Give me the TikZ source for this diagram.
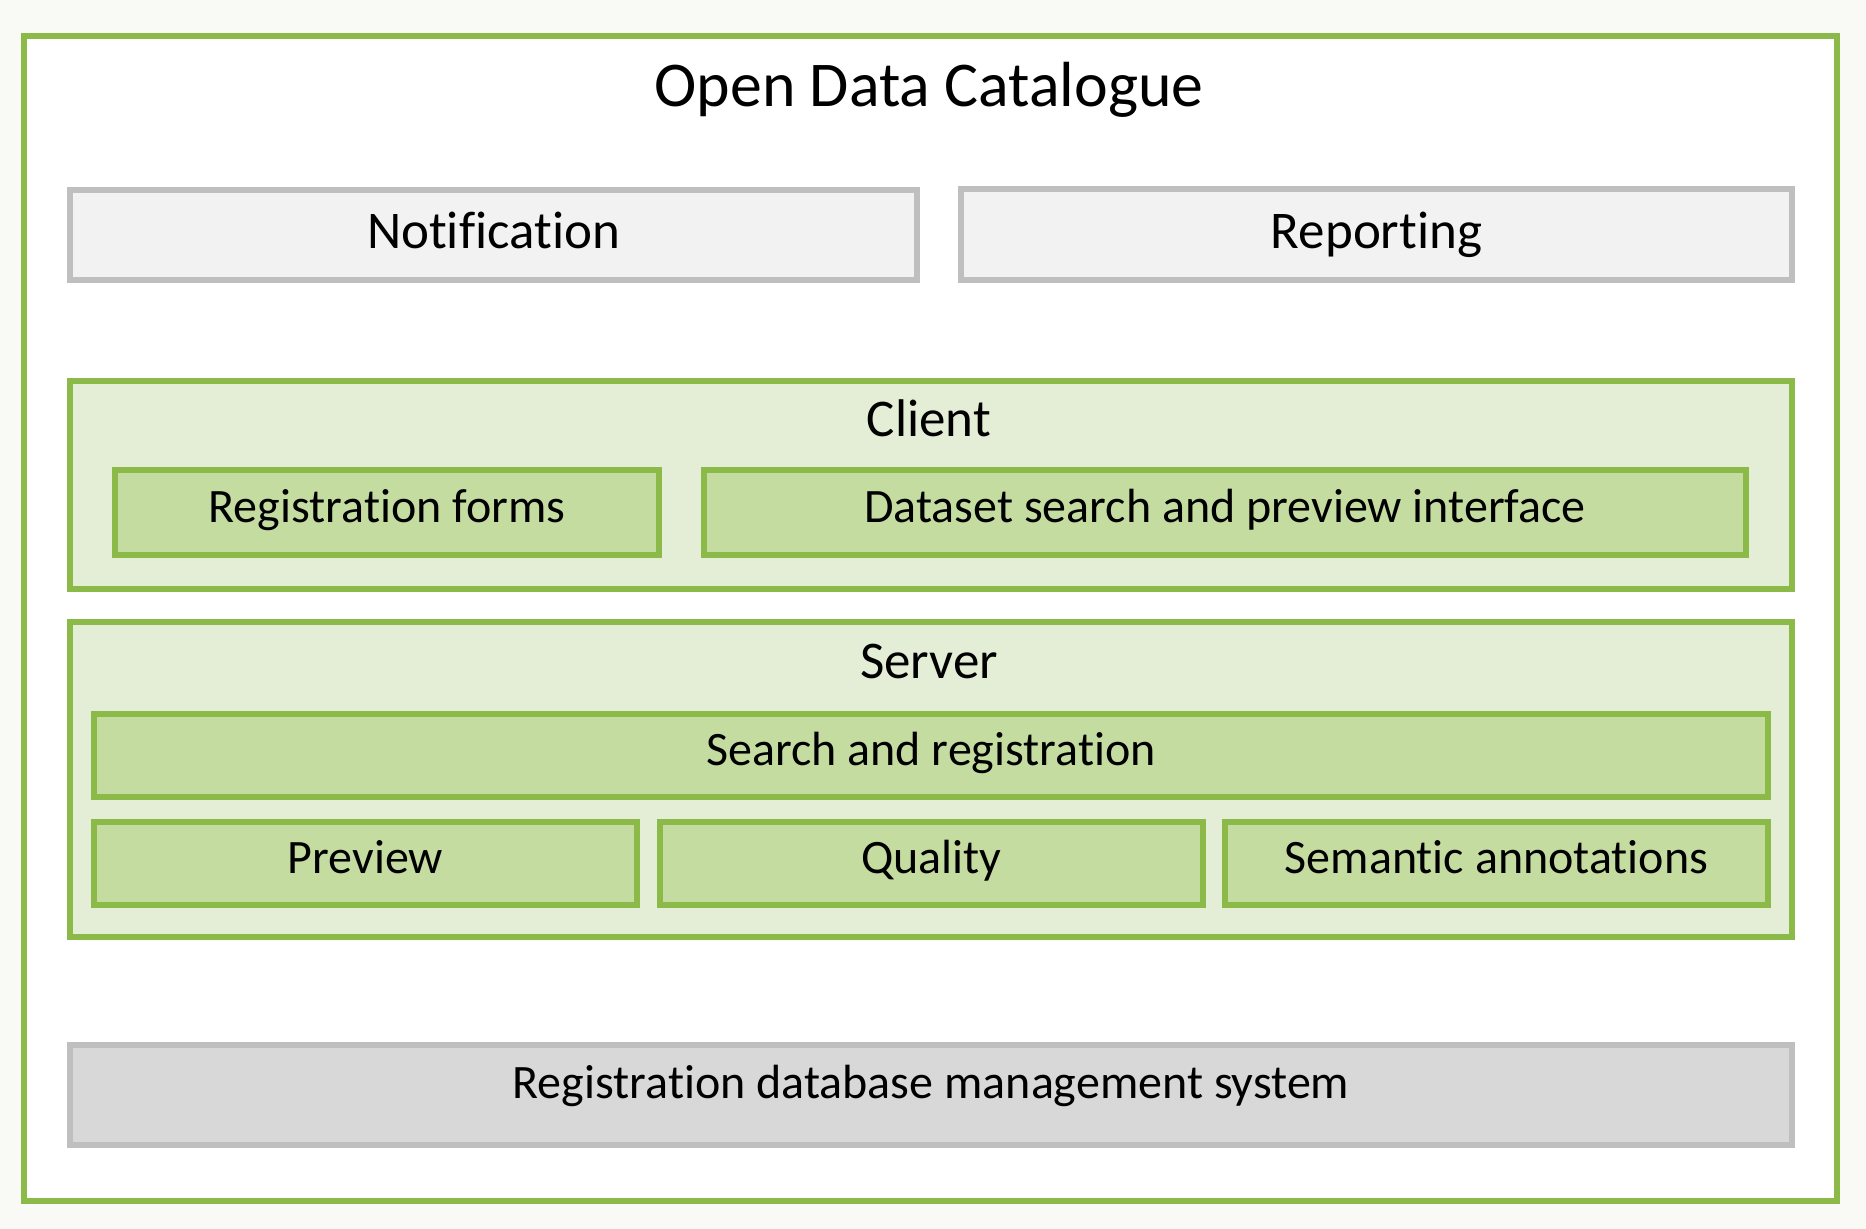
\documentclass[tikz,border=0pt]{standalone}
\usepackage{fontspec}
\setmainfont{Carlito}[Ligatures=NoCommon]
\definecolor{grnline}{HTML}{8CBA48}
\definecolor{grnlight}{HTML}{E4EED6}
\definecolor{grnmid}{HTML}{C5DCA0}
\definecolor{gryline}{HTML}{BFBFBF}
\definecolor{grylight}{HTML}{F2F2F2}
\definecolor{grydark}{HTML}{D9D8D9}
\definecolor{bgpage}{HTML}{F9F9F6}
\tikzset{
  labelfont/.style={font=\fontsize{24}{29}\selectfont},
  bigfont/.style={font=\fontsize{26.5}{32}\selectfont},
  outerbox/.style={draw=grnline, line width=3.2pt, fill=white, rectangle, inner sep=0pt},
  graybox/.style={draw=gryline, fill=grylight, line width=3pt, rectangle, inner sep=0pt, bigfont, text height=16pt, text depth=2pt},
  dbbox/.style={draw=gryline, fill=grydark, line width=3pt, rectangle, inner sep=0pt, labelfont, text height=9pt, text depth=6pt},
  groupbox/.style={draw=grnline, fill=grnlight, line width=3pt, rectangle, inner sep=0pt},
  compbox/.style={draw=grnline, fill=grnmid, line width=3pt, rectangle, inner sep=0pt, labelfont, text height=14pt, text depth=4pt},
  grouptitle/.style={anchor=base, bigfont, inner sep=0pt},
}
\begin{document}
\begin{tikzpicture}[x=0.5pt,y=-0.5pt]
\fill[bgpage] (0,0) rectangle (1866,1229);
\useasboundingbox (0,0) rectangle (1866,1229);
\node[outerbox, minimum width=906.5pt, minimum height=582.5pt] (odc) at (930.5,618.5) {};
\node[anchor=base, inner sep=0pt, font=\fontsize{31.9}{38}\selectfont] (title) at (929,107) {Open Data Catalogue};

\node[graybox, minimum width=423.5pt, minimum height=45pt] (notif) at (493.5,235) {Notification};
\node[graybox, minimum width=415.5pt, minimum height=45.5pt] (report) at (1376.5,234.5) {Reporting};

\node[groupbox, minimum width=861pt, minimum height=104pt] (client) at (931,485) {};
\node[grouptitle] (clientlbl) at (929,437) {Client};
\node[compbox, minimum width=272pt, minimum height=42.5pt] (regforms) at (387,512.5) {Registration forms};
\node[compbox, minimum width=521pt, minimum height=42.5pt] (dataset) at (1225,512.5) {Dataset search and preview interface};

\node[groupbox, minimum width=861pt, minimum height=157.5pt] (server) at (931,779.5) {};
\node[grouptitle] (serverlbl) at (929,678) {Server};
\node[compbox, minimum width=837pt, minimum height=41.5pt] (searchreg) at (931,755.5) {Search and registration};
\node[compbox, minimum width=271.5pt, minimum height=41.5pt] (preview) at (365.5,863.5) {Preview};
\node[compbox, minimum width=271.5pt, minimum height=41.5pt] (quality) at (931.5,863.5) {Quality};
\node[compbox, minimum width=271.5pt, minimum height=41.5pt] (semantic) at (1496.5,863.5) {Semantic annotations};

\node[dbbox, minimum width=861pt, minimum height=50pt] (rdbms) at (931,1095) {Registration database management system};
\end{tikzpicture}
\end{document}
